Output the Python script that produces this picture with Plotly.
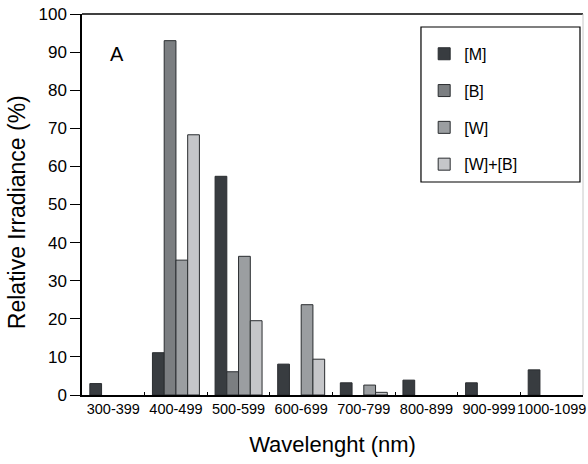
import plotly.graph_objects as go

categories = ["300-399", "400-499", "500-599", "600-699", "700-799", "800-899", "900-999", "1000-1099"]
m_vals = [3.0, 11.1, 57.4, 8.1, 3.2, 3.9, 3.2, 6.6]
b_vals = [None, 93.0, 6.1, None, None, None, None, None]
w_vals = [None, 35.4, 36.4, 23.7, 2.6, None, None, None]
wb_vals = [None, 68.3, 19.5, 9.4, 0.7, None, None, None]
series_names = ["[M]", "[B]", "[W]", "[W]+[B]"]
colors = ["#383c40", "#7b7e81", "#9b9ea1", "#c5c6c9"]

FONT = "Liberation Sans, Arial, sans-serif"
fig = go.Figure()
for i, (name, vals, col) in enumerate(zip(series_names, [m_vals, b_vals, w_vals, wb_vals], colors)):
    fig.add_trace(go.Bar(
        x=categories, y=vals, name=name, legendgroup=f"g{i}",
        marker=dict(color=col, line=dict(color="#2a2d30", width=1)),
    ))

fig.update_layout(
    width=588, height=464,
    margin=dict(l=82, r=5, t=14, b=69, autoexpand=False),
    paper_bgcolor="white", plot_bgcolor="white",
    barmode="group", bargap=0.25, bargroupgap=0,
    font=dict(family=FONT, color="black"),
    showlegend=True,
    legend=dict(
        x=0.683, y=0.94, xanchor="left", yanchor="top",
        borderwidth=0, bgcolor="rgba(0,0,0,0)",
        font=dict(size=16, family=FONT), tracegroupgap=13,
        itemwidth=30,
    ),
    xaxis=dict(
        showline=True, linecolor="black", linewidth=1.5, mirror=False,
        ticks="inside", ticklen=3, tickson="boundaries", tickcolor="black",
        tickangle=0, automargin=False,
        tickfont=dict(size=14.5, family=FONT), showgrid=False,
        title=dict(text="Wavelenght (nm)", font=dict(size=22, family=FONT), standoff=20),
    ),
    yaxis=dict(
        range=[0, 100], dtick=10, showline=True, linecolor="black", linewidth=1.5,
        ticks="outside", ticklen=10, tickcolor="black", showgrid=False,
        tickfont=dict(size=17, family=FONT), zeroline=False, automargin=False,
    ),
    shapes=[
        dict(type="line", xref="paper", yref="paper", x0=0, x1=1, y0=1, y1=1,
             line=dict(color="black", width=1.5)),
        dict(type="line", xref="paper", yref="paper", x0=1, x1=1, y0=0, y1=1,
             line=dict(color="#c8c8c8", width=1)),
        dict(type="rect", xref="paper", yref="paper", x0=0.6766, x1=0.994, y0=0.559, y1=0.9659,
             line=dict(color="black", width=1.2), fillcolor="white", layer="below"),
    ],
    annotations=[
        dict(text="A", xref="paper", yref="paper", x=0.07, y=0.895, showarrow=False,
             font=dict(size=20, family=FONT), xanchor="center", yanchor="middle"),
        dict(text="Relative Irradiance (%)", xref="paper", yref="paper", x=-0.1297, y=0.48,
             textangle=-90, showarrow=False, xanchor="center", yanchor="middle",
             font=dict(size=23, family=FONT)),
    ],
)

fig.write_html("out.html", config={"displayModeBar": False},
               post_script="document.body.style.margin='0';")
